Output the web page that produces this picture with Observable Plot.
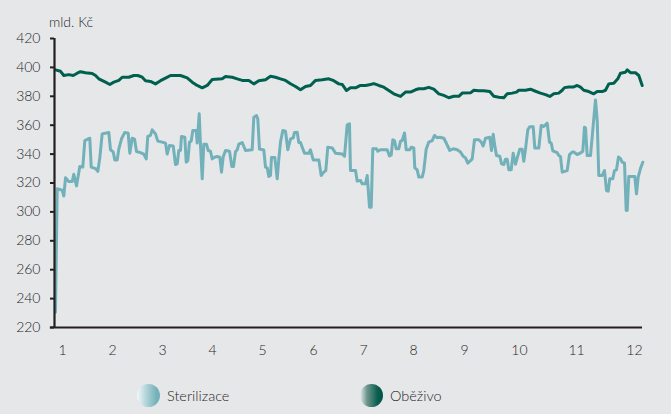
<!DOCTYPE html>
<html>
<head>
<meta charset="utf-8">
<script src="https://cdn.jsdelivr.net/npm/d3@7"></script>
<script src="https://cdn.jsdelivr.net/npm/@observablehq/plot@0.6"></script>
<style>
  html, body { margin: 0; padding: 0; background: #e6e7e9; }
  #wrap { position: relative; width: 671px; height: 414px; font-family: Lato, "Open Sans", sans-serif; font-weight: 300; color: #1f1f1f; }
  #unit { position: absolute; left: 49px; top: 13px; font-size: 14px; }
  #chart { position: absolute; left: 0; top: 0; }
  #chart svg text { font-weight: 300; }
  .leg { position: absolute; top: 384px; display: flex; align-items: center; font-size: 14.5px; }
  .dot { width: 23px; height: 23px; border-radius: 50%; margin-right: 7px; }
</style>
</head>
<body>
<div id="wrap">
  <div id="chart"></div>
  <div id="unit">mld. Kč</div>
  <div class="leg" style="left:137px"><div class="dot" style="background:linear-gradient(to right,#f3f8f9 0%,#b9d8dc 35%,#74b1b9 85%)"></div><span>Sterilizace</span></div>
  <div class="leg" style="left:360px"><div class="dot" style="background:linear-gradient(to right,#e3ebe8 0%,#6f968e 30%,#0b5f50 75%,#005447 100%)"></div><span>Oběživo</span></div>
</div>
<script>
// x is a position index along the year; tick labels 1..12 sit where the reference places them
const monthLabels = ["1","2","3","4","5","6","7","8","9","10","11","12"];
const monthTickPos = [1.0,1.962,2.923,3.885,4.846,5.827,6.788,7.75,8.731,9.788,10.885,12.0];
const yTicks = [220,240,260,280,300,320,340,360,380,400,420];
const xDomain = [0.846, 12.154];
const yDomain = [220, 420];

const seriesNames = ["Sterilizace", "Oběživo"];
const seriesColors = ["#72b1b9", "#00604f"];

const sterilizaceT = [0.865,0.898,0.994,1.025,1.058,1.121,1.187,1.217,1.269,1.333,1.390,1.429,1.525,1.552,1.635,1.679,1.717,1.763,1.890,1.923,1.975,2.006,2.052,2.083,2.135,2.198,2.263,2.294,2.340,2.385,2.423,2.500,2.563,2.610,2.640,2.692,2.725,2.788,2.833,2.917,2.981,3.013,3.058,3.129,3.173,3.206,3.237,3.269,3.288,3.352,3.379,3.410,3.442,3.475,3.506,3.571,3.590,3.629,3.654,3.687,3.717,3.769,3.802,3.846,3.879,3.923,3.975,4.025,4.058,4.090,4.135,4.212,4.256,4.288,4.327,4.360,4.390,4.456,4.519,4.648,4.679,4.731,4.756,4.788,4.871,4.904,4.937,4.967,5.000,5.019,5.083,5.129,5.160,5.192,5.237,5.288,5.333,5.385,5.437,5.462,5.513,5.544,5.577,5.610,5.654,5.737,5.769,5.821,5.929,5.975,6.025,6.063,6.102,6.187,6.250,6.379,6.423,6.475,6.519,6.538,6.635,6.667,6.731,6.763,6.827,6.860,6.904,6.937,6.967,7.038,7.063,7.115,7.244,7.288,7.321,7.352,7.385,7.417,7.467,7.500,7.533,7.577,7.610,7.679,7.706,7.756,7.775,7.821,7.852,7.917,7.948,7.994,8.044,8.110,8.154,8.206,8.256,8.333,8.385,8.448,8.513,8.590,8.654,8.706,8.750,8.794,8.846,8.879,8.923,9.006,9.052,9.090,9.135,9.217,9.250,9.283,9.308,9.346,9.410,9.442,9.487,9.519,9.552,9.583,9.629,9.667,9.712,9.744,9.794,9.840,9.871,9.904,9.948,9.987,10.052,10.083,10.160,10.206,10.256,10.321,10.365,10.398,10.429,10.513,10.544,10.577,10.610,10.706,10.750,10.802,10.833,10.898,10.962,11.006,11.038,11.058,11.090,11.154,11.206,11.250,11.283,11.313,11.379,11.423,11.462,11.494,11.525,11.583,11.615,11.654,11.692,11.731,11.763,11.808,11.840,11.860,11.890,12.006,12.038,12.071,12.115,12.160];
const sterilizaceV = [230.6,316,315,311,323.6,321,321,326,318,331.4,331,349.4,351,331,330,328,337.4,354,355,343,341.5,336,336,343.5,350.6,355,354.5,340.6,351,350.4,341.8,341,340,336.7,352.2,353,356.8,354,349,348.3,347.6,340,346,345.6,332.8,333.3,342.5,342.5,352.2,351.7,334.4,335.5,348.3,349,356.3,356.3,347.6,367.9,346,322.9,346.9,346.9,342.5,342,336.7,337.8,338.3,337.8,327.5,338,342.5,342,331.4,331.4,341.8,342.9,346.9,348,342.5,343,365.5,366.6,364.3,343.5,342.8,331,330.5,324.5,325.2,337.6,337.6,322.9,336.5,348.3,356.3,355.8,343,350.6,351.3,355,355.2,348,348,344.8,340.6,340.6,343,336,336,325.2,327.5,328.6,344.8,344.3,340.6,340.1,338.5,360.2,361,328.6,328.6,321.3,321.8,319.4,319.4,325.2,303.3,303.3,343.7,343.7,342,343,343,338.7,339.4,349.9,349.4,343.7,343.7,349,349.4,354.6,343,343,344.8,344.2,330.5,329.1,324.1,324.1,328.6,343.4,348.3,349.4,352.9,351.3,351.7,351,347.3,342.5,343.7,343,341.4,338.5,337.4,333.7,335.5,336.7,349.9,349.9,348.3,345.6,351,351.7,342.5,353.8,346.9,339,338.5,333.3,332.8,336.5,336.5,329.1,329.1,340.6,333,337.2,343.4,343.4,335,343.4,356.8,359,359,344.2,344.2,359.8,359.1,361.4,348.3,347.6,342.3,341,339,338.3,327.5,328.6,339.7,341.4,341.4,339.7,340.8,341.9,358.6,358.1,339,339,359.8,377.5,363.2,325.2,325.2,328.6,314.8,314.3,323,323,328.6,329.1,338,336.9,334.5,333.8,301,301,324.5,324.5,312.5,324,330,334.4];

const obezivoT = [0.865,0.962,1.025,1.121,1.206,1.283,1.346,1.442,1.571,1.635,1.698,1.827,1.910,1.987,2.083,2.148,2.275,2.371,2.448,2.533,2.596,2.692,2.788,2.885,2.981,3.077,3.269,3.398,3.494,3.590,3.687,3.783,3.879,4.071,4.135,4.263,4.360,4.456,4.583,4.679,4.775,4.904,5.000,5.096,5.192,5.288,5.385,5.481,5.577,5.673,5.769,5.865,5.994,6.121,6.217,6.313,6.379,6.462,6.538,6.635,6.731,6.827,6.923,6.987,7.083,7.179,7.275,7.371,7.500,7.596,7.692,7.788,7.852,7.948,8.044,8.140,8.237,8.333,8.429,8.525,8.621,8.687,8.846,8.910,9.006,9.102,9.217,9.294,9.390,9.487,9.552,9.648,9.731,9.775,9.904,10.000,10.096,10.192,10.288,10.371,10.448,10.544,10.610,10.654,10.737,10.833,10.898,10.962,11.025,11.121,11.217,11.283,11.379,11.442,11.506,11.602,11.679,11.731,11.827,11.860,11.923,12.019,12.083,12.148];
const obezivoV = [398.3,397.3,394.4,395,394.4,396,397,396.3,395.8,394.4,392.1,389.8,388.2,389.8,391,393.2,393.2,394.4,394.4,393.2,390.8,390.3,388.6,390.8,392.6,394.4,394.4,392.8,389.8,387.5,385.9,387.5,391.6,392.1,393.7,393.2,392.1,391,391,388.6,390.8,391.5,393.9,393.2,392.1,391,388.7,386.8,384.5,386.8,387.5,391,391.5,392.1,390.8,388.6,388.2,384,385.9,385.9,387.5,387.5,388.2,388.8,387.5,386.3,384,381.7,379.9,382.9,382.9,384.5,385.2,385.2,386.2,384.9,381.7,380.6,379,380,380,382.2,382.4,384.2,383.8,383.8,383.3,380,379.4,379,381.7,382.2,382.9,384.2,384.2,384.9,383.5,382.2,381.2,379.9,381.7,382.2,384.2,386,386.5,386.5,387.5,386.3,384.2,383.3,381.7,383.3,383.3,384.2,388.6,389.1,392.1,396,396.7,398.3,396.3,396.3,394.4,387.5];

const rows = [
  ...sterilizaceT.map((t, i) => ({s: seriesNames[0], t, v: sterilizaceV[i]})),
  ...obezivoT.map((t, i) => ({s: seriesNames[1], t, v: obezivoV[i]}))
];

const axisColor = "#231f20";
const textColor = "#1f1f1f";

const chart = Plot.plot({
  width: 671,
  height: 370,
  marginLeft: 54,
  marginRight: 29,
  marginTop: 38,
  marginBottom: 43,
  style: {background: "transparent", fontFamily: "Lato, 'Open Sans', sans-serif", fontSize: "14px", color: textColor},
  x: {domain: xDomain},
  y: {domain: yDomain},
  color: {domain: seriesNames, range: seriesColors},
  marks: [
    Plot.axisY(yTicks, {tickSize: 4, tickPadding: 10, strokeWidth: 2, stroke: axisColor, fill: textColor, label: null, fontSize: 14}),
    Plot.axisX(monthTickPos, {tickSize: 0, tickPadding: 18, fill: textColor, label: null, fontSize: 14,
      tickFormat: (d) => monthLabels[monthTickPos.indexOf(d)]}),
    Plot.line(rows, {x: "t", y: "v", z: "s", stroke: "s", strokeWidth: 3, strokeLinejoin: "round"}),
    Plot.ruleX([xDomain[0]], {stroke: axisColor, strokeWidth: 2.2}),
    Plot.ruleY([yDomain[0]], {stroke: axisColor, strokeWidth: 2.2, x1: xDomain[0] - 0.08, x2: xDomain[1]})
  ]
});
document.getElementById("chart").appendChild(chart);
</script>
</body>
</html>
